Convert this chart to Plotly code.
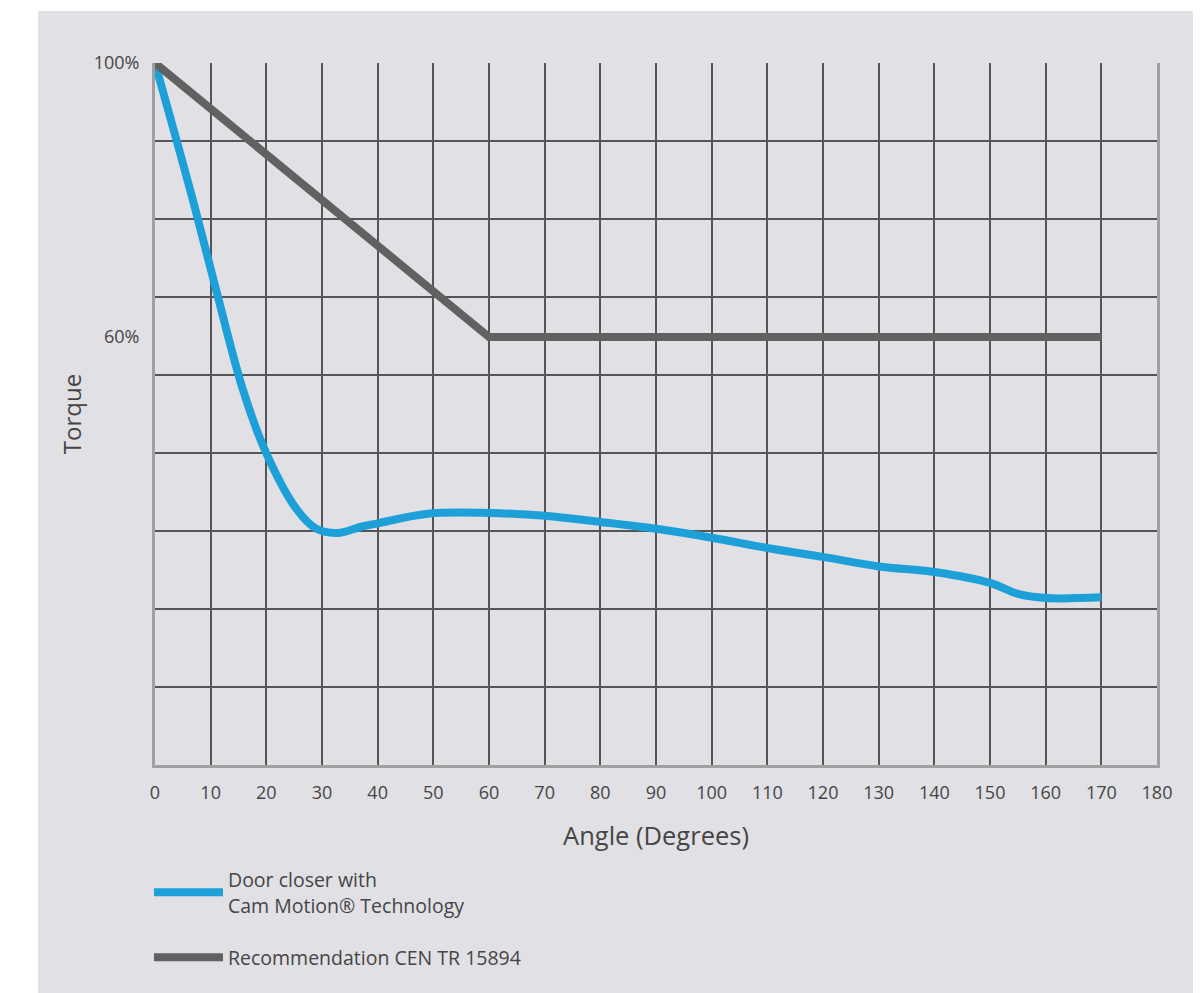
import plotly.graph_objects as go

# angle in degrees, torque in % of the starting torque
cam_angle = [0, 6.8, 11.1, 15.8, 20, 25.4, 29, 33, 37, 40, 49, 60, 70, 80, 90,
             100, 110, 120, 130, 140, 150, 155, 160, 170]
cam_torque = [100, 80, 66.5, 52.3, 43, 34.9, 32, 31.4, 32.3, 32.8, 34.2, 34.3, 33.9, 33.0, 32.0,
              30.7, 29.2, 27.9, 26.5, 25.7, 24.1, 22.5, 21.9, 22.0]

cen_angle = [0, 60, 170]
cen_torque = [100, 60, 60]

x_ticks = list(range(0, 181, 10))
y_tick_vals = [60, 100]
y_tick_text = ["60%", "100%"]

# the torque scale: 100% at the top, 60% sits half way between two grid lines
y_bottom = -2.48
y_top = 100
grid_step = (y_top - y_bottom) / 9
y_grid = [y_bottom + grid_step * i for i in range(1, 9)]

font = "Open Sans, Noto Sans, sans-serif"
text_color = "#454545"

fig = go.Figure()
fig.add_trace(go.Scatter(
    x=cam_angle, y=cam_torque, mode="lines",
    line=dict(color="#1d9fd8", width=8, shape="spline", smoothing=1.0),
    name="Door closer with<br>Cam Motion® Technology",
    legendgroup="cam",
))
fig.add_trace(go.Scatter(
    x=cen_angle, y=cen_torque, mode="lines",
    line=dict(color="#616161", width=8),
    name="Recommendation CEN TR 15894",
    legendgroup="cen",
))

# light grey panel behind everything
fig.add_shape(type="rect", xref="paper", yref="paper",
              x0=-0.1168, x1=1.06, y0=-0.36, y1=1.0741,
              fillcolor="#e1e0e5", line_width=0, layer="below")

fig.update_layout(
    width=1193, height=985,
    margin=dict(l=147, r=44, t=55, b=228),
    paper_bgcolor="white",
    plot_bgcolor="rgba(0,0,0,0)",
    font=dict(family=font, color=text_color),
    showlegend=True,
    legend=dict(
        x=-0.006, y=-0.136, xanchor="left", yanchor="top",
        bgcolor="rgba(0,0,0,0)",
        font=dict(size=19.5, color=text_color),
        itemwidth=69, tracegroupgap=24,
        itemclick=False, itemdoubleclick=False,
    ),
    xaxis=dict(
        range=[0, 180], tickvals=x_ticks,
        showgrid=True, gridcolor="#555555", gridwidth=1.5,
        showline=True, linecolor="#a0a0a0", linewidth=3,
        zeroline=False, ticks="",
        tickfont=dict(size=18, color=text_color),
        ticklabelstandoff=9,
        title=dict(text="Angle (Degrees)", font=dict(size=25.5, color=text_color), standoff=25),
    ),
    yaxis=dict(
        range=[y_bottom, y_top], tickvals=y_tick_vals, ticktext=y_tick_text,
        showgrid=False, zeroline=False, ticks="",
        showline=True, mirror=True, linecolor="#a0a0a0", linewidth=3,
        tickfont=dict(size=18, color=text_color),
        ticklabelstandoff=9,
        minor=dict(tickvals=y_grid, showgrid=True, gridcolor="#555555", gridwidth=1.5, ticks=""),
        title=dict(text="Torque", font=dict(size=24, color=text_color), standoff=6),
    ),
)

fig.write_html("out.html")
